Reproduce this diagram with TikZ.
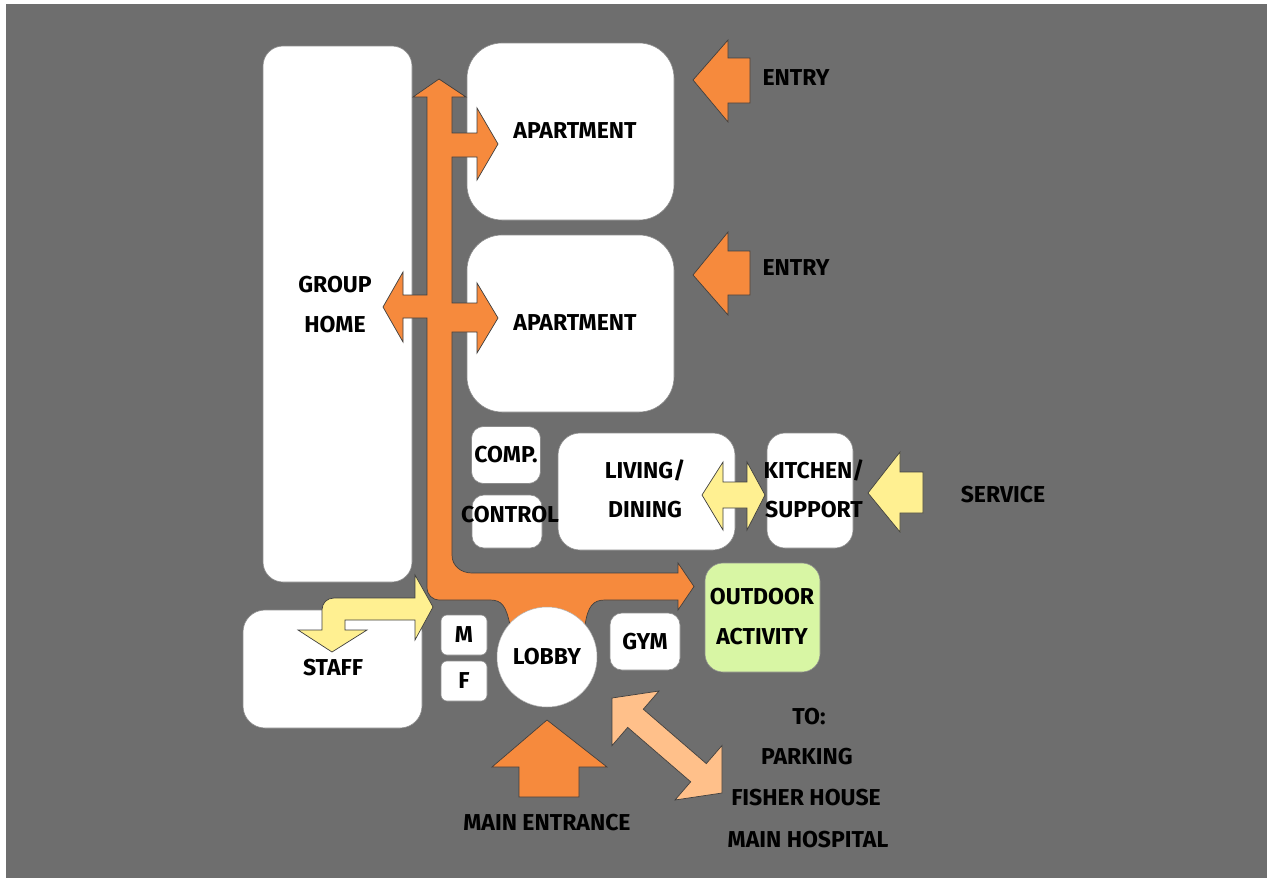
\documentclass[tikz,border=0pt]{standalone}
\usepackage{fontspec}
\setmainfont{Fira Sans}
\definecolor{bggray}{RGB}{110,110,110}
\definecolor{orng}{RGB}{246,138,61}
\definecolor{ylw}{RGB}{255,240,145}
\definecolor{peach}{RGB}{255,192,138}
\definecolor{lgreen}{RGB}{216,246,164}
\begin{document}
\begin{tikzpicture}[x=1pt,y=-1pt,
  box/.style={draw=black!45, line width=0.6pt, fill=white, rounded corners=#1, inner sep=0pt},
  box/.default=12pt,
  lbl/.style={font=\fontsize{23}{25}\selectfont\bfseries, text=black, inner sep=0pt},
  blk/.style={line width=0.7pt, draw=black!75, line join=miter}]
\useasboundingbox (0,0) rectangle (1267,878);
\fill[white] (0,0) rectangle (1267,878);
\fill[bggray] (6,4) rectangle (1267,878);

% room boxes
\node[box=20pt, minimum width=149pt, minimum height=536pt] (grp) at (337.5,314) {};
\node[box=35pt, minimum width=207pt, minimum height=177pt] (apt1) at (570.5,131.5) {};
\node[box=35pt, minimum width=207pt, minimum height=177pt] (apt2) at (570.5,323.5) {};
\node[box=12pt, minimum width=69pt, minimum height=57pt] (comp) at (506,455) {};
\node[box=12pt, minimum width=70pt, minimum height=53pt] (ctrl) at (507,521.5) {};
\node[box=22pt, minimum width=177pt, minimum height=117pt] (liv) at (646.5,491.5) {};
\node[box=18pt, minimum width=86pt, minimum height=115pt] (kit) at (810,490.5) {};
\node[box=18pt, fill=lgreen, minimum width=115pt, minimum height=109pt] (out) at (762.5,617.5) {};
\node[box=12pt, minimum width=70pt, minimum height=57pt] (gym) at (645,641.5) {};
\node[box=6pt, minimum width=46pt, minimum height=40pt] (mm) at (464,635) {};
\node[box=6pt, minimum width=46pt, minimum height=40pt] (ff) at (464,681) {};
\node[box=22pt, minimum width=179pt, minimum height=118pt] (staff) at (332.5,669) {};

% main orange circulation spine
\filldraw[blk, fill=orng]
  (439,79) -- (466,97) -- (452,97) -- (452,133) -- (477,133) -- (477,108) -- (498,144)
  -- (477,180) -- (477,157) -- (452,157) -- (452,303) -- (477,303) -- (477,283)
  -- (498,318) -- (477,353) -- (477,332) -- (452,332) -- (452,555)
  .. controls (452,566) and (461,573) .. (472,573) -- (678,573) -- (678,563)
  -- (694,586.5) -- (678,610) -- (678,600) -- (605,600)
  .. controls (593,600) and (588,606) .. (585,625) -- (510,625)
  .. controls (506,606) and (502,600) .. (490,600) -- (440,600)
  .. controls (432,600) and (427,595) .. (427,587) -- (427,318) -- (403,318)
  -- (403,342) -- (383,307) -- (403,272) -- (403,295) -- (427,295) -- (427,97)
  -- (413,97) -- cycle;

% lobby
\node[circle, fill=white, draw=black!30, line width=0.5pt, minimum size=100pt, inner sep=0pt] (lobby) at (547,657) {};

% entry arrows
\filldraw[blk, fill=orng] (693,80) -- (728,40) -- (728,58) -- (750,58) -- (750,103) -- (728,103) -- (728,122) -- cycle;
\filldraw[blk, fill=orng] (693,275) -- (728,232) -- (728,251) -- (750,251) -- (750,295) -- (728,295) -- (728,315) -- cycle;
% main entrance
\filldraw[blk, fill=orng] (547,720) -- (607,767) -- (579,767) -- (579,797) -- (519,797) -- (519,767) -- (492,767) -- cycle;
% service
\filldraw[blk, fill=ylw] (868,493) -- (900,452) -- (900,472) -- (923,472) -- (923,513) -- (900,513) -- (900,532) -- cycle;
% living <-> kitchen
\filldraw[blk, fill=ylw] (702,495) -- (723,462) -- (723,482) -- (747,482) -- (747,462) -- (765,495)
  -- (747,530) -- (747,508) -- (723,508) -- (723,530) -- cycle;
% staff arrow
\filldraw[blk, fill=ylw] (433,607) -- (415,640) -- (415,620) -- (345,620) -- (345,630) -- (367,630)
  -- (332,652) -- (298,630) -- (322,630) -- (322,610)
  .. controls (322,603) and (327,598) .. (334,598) -- (415,598) -- (415,575) -- cycle;
% to parking etc.
\filldraw[blk, fill=peach] (612,698) -- (659,691) -- (643.3,709.2) -- (706.3,763.6) -- (722,745.5)
  -- (722,793) -- (675,800) -- (690.7,781.8) -- (627.7,727.4) -- (612,745.6) -- cycle;

% labels
\node[lbl] (tGroup) at (335,285) {GROUP};
\node[lbl] (tHome) at (335,325) {HOME};
\node[lbl] (tApt1) at (575,131) {APARTMENT};
\node[lbl] (tApt2) at (575,323) {APARTMENT};
\node[lbl] (tEntry1) at (796,78) {ENTRY};
\node[lbl] (tEntry2) at (796,268) {ENTRY};
\node[lbl] (tComp) at (506,455) {COMP.};
\node[lbl] (tCtrl) at (510,515) {CONTROL};
\node[lbl] (tLiv) at (645,470) {LIVING/};
\node[lbl] (tDin) at (645,510) {DINING};
\node[lbl] (tKit) at (814,470) {KITCHEN/};
\node[lbl] (tSup) at (814,510) {SUPPORT};
\node[lbl] (tServ) at (1003,495) {SERVICE};
\node[lbl] (tOut1) at (762,597) {OUTDOOR};
\node[lbl] (tOut2) at (762,637) {ACTIVITY};
\node[lbl] (tGym) at (645,642) {GYM};
\node[lbl] (tM) at (464,635) {M};
\node[lbl] (tF) at (464,681) {F};
\node[lbl] (tLobby) at (547,657) {LOBBY};
\node[lbl] (tStaff) at (333,668) {STAFF};
\node[lbl] (tMain) at (547,823) {MAIN ENTRANCE};
\node[lbl] (tTo) at (809,717) {TO:};
\node[lbl] (tPark) at (807,757) {PARKING};
\node[lbl] (tFish) at (806,798) {FISHER HOUSE};
\node[lbl] (tHosp) at (808,840) {MAIN HOSPITAL};
\end{tikzpicture}
\end{document}
